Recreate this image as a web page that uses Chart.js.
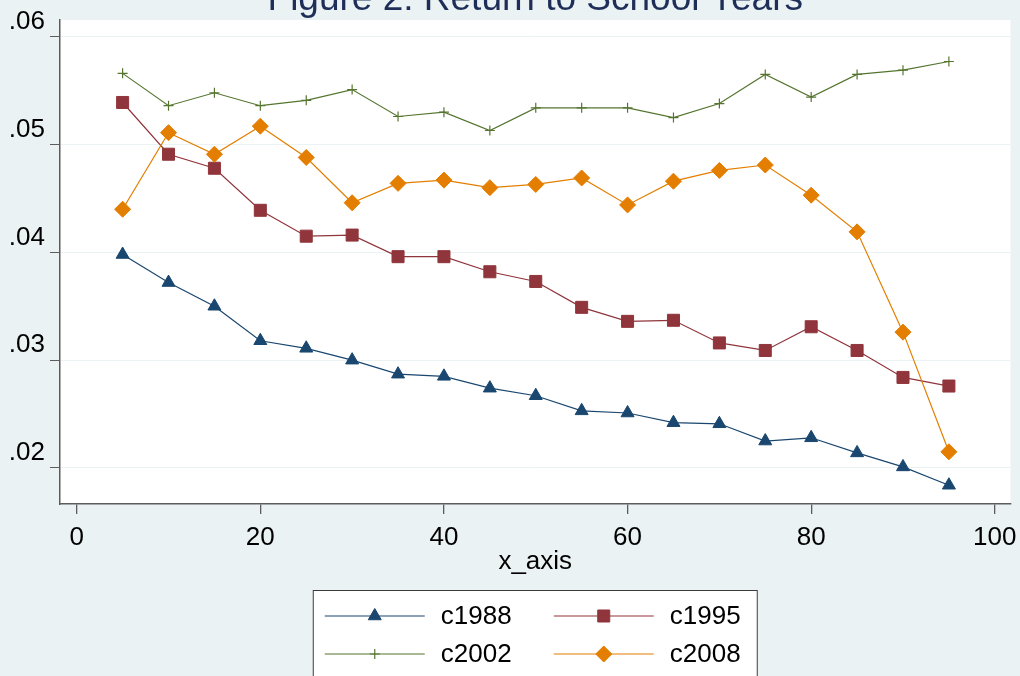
<!DOCTYPE html>
<html>
<head>
<meta charset="utf-8">
<title>Figure 2: Return to School Years</title>
<script src="https://cdn.jsdelivr.net/npm/chart.js@4.4.0/dist/chart.umd.min.js"></script>
<style>
    html, body { margin: 0; padding: 0; background: #EAF2F3; }
    canvas { display: block; }
</style>
</head>
<body>
<canvas id="graficoRetorno" width="1020" height="676"></canvas>
<script>
// dados
const xValores = [5, 10, 15, 20, 25, 30, 35, 40, 45, 50, 55, 60, 65, 70, 75, 80, 85, 90, 95];
const c1988 = [0.0398, 0.0372, 0.0350, 0.0318, 0.0311, 0.0300, 0.0287, 0.0285, 0.0274, 0.0267, 0.0253, 0.0251, 0.0242, 0.0241, 0.0225, 0.0228, 0.0214, 0.0201, 0.0184];
const c1995 = [0.0539, 0.0491, 0.0478, 0.0439, 0.0415, 0.0416, 0.0396, 0.0396, 0.0382, 0.0373, 0.0349, 0.0336, 0.0337, 0.0316, 0.0309, 0.0331, 0.0309, 0.0284, 0.0276];
const c2002 = [0.0566, 0.0536, 0.0548, 0.0536, 0.0541, 0.0551, 0.0526, 0.0530, 0.0513, 0.0534, 0.0534, 0.0534, 0.0525, 0.0538, 0.0565, 0.0544, 0.0565, 0.0569, 0.0577];
const c2008 = [0.0440, 0.0511, 0.0491, 0.0517, 0.0488, 0.0446, 0.0464, 0.0467, 0.0460, 0.0463, 0.0469, 0.0444, 0.0466, 0.0476, 0.0481, 0.0453, 0.0419, 0.0326, 0.0215];
const seriesNomes = ['c1988', 'c1995', 'c2002', 'c2008'];
const xTicks = [0, 20, 40, 60, 80, 100];
const yTicks = [0.02, 0.03, 0.04, 0.05, 0.06];
const yTickLabels = ['.02', '.03', '.04', '.05', '.06'];
const titulo = 'Figure 2: Return to School Years';
const xTitulo = 'x_axis';

const FONTE = '"Liberation Sans", Arial, Helvetica, sans-serif';
const FUNDO = '#EAF2F3';
const EIXO = '#5c5c5c';

const paraPontos = (ys) => ys.map((y, i) => ({ x: xValores[i], y: y }));

// --- Fundo, titulo e legenda ---
const fundoPlugin = {
    id: 'fundo',
    beforeDraw(chart) {
        const { ctx, chartArea } = chart;
        ctx.save();
        ctx.fillStyle = FUNDO;
        ctx.fillRect(0, 0, chart.width, chart.height);
        ctx.fillStyle = '#ffffff';
        ctx.fillRect(chartArea.left, chartArea.top, chartArea.right - chartArea.left, chartArea.bottom - chartArea.top);
        ctx.restore();
    }
};

function desenharMarcador(ctx, ds, x, y) {
    const opts = {
        pointStyle: ds.pointStyle,
        radius: ds.pointRadius,
        rotation: 0,
        borderWidth: ds.pointBorderWidth
    };
    ctx.fillStyle = ds.pointBackgroundColor;
    ctx.strokeStyle = ds.pointBorderColor;
    ctx.lineWidth = ds.pointBorderWidth;
    Chart.helpers.drawPoint(ctx, opts, x, y);
}

const tituloLegendaPlugin = {
    id: 'tituloLegenda',
    afterDraw(chart) {
        const { ctx, chartArea } = chart;
        const centro = (chartArea.left + chartArea.right) / 2;
        ctx.save();

        // titulo (cortado no topo como no original)
        ctx.fillStyle = '#1E2E58';
        ctx.font = '37px ' + FONTE;
        ctx.textAlign = 'center';
        ctx.textBaseline = 'alphabetic';
        ctx.fillText(titulo, centro, 10);

        // caixa da legenda
        const larg = 445;
        const esq = centro - larg / 2;
        const topo = 590;
        ctx.fillStyle = '#ffffff';
        ctx.fillRect(esq, topo, larg, 100);
        ctx.strokeStyle = '#3a3a3a';
        ctx.lineWidth = 1;
        ctx.strokeRect(esq + 0.5, topo + 0.5, larg - 1, 100);

        ctx.font = '26px ' + FONTE;
        ctx.textAlign = 'left';
        ctx.textBaseline = 'middle';
        chart.data.datasets.forEach((ds, i) => {
            const col = i % 2;
            const lin = Math.floor(i / 2);
            const x0 = esq + 12 + col * 229;
            const y0 = topo + 26 + lin * 38;
            ctx.strokeStyle = ds.borderColor;
            ctx.lineWidth = ds.borderWidth;
            ctx.beginPath();
            ctx.moveTo(x0, y0);
            ctx.lineTo(x0 + 100, y0);
            ctx.stroke();
            desenharMarcador(ctx, ds, x0 + 50, y0);
            ctx.fillStyle = '#000000';
            ctx.fillText(ds.label, x0 + 116, y0 + 1);
        });
        ctx.restore();
    }
};

const cores = ['#1A476F', '#90353B', '#55752F', '#E37E00'];
const estilos = ['triangle', 'rect', 'cross', 'rectRot'];
const raios = [7.5, 8.5, 5, 8];
const valores = [c1988, c1995, c2002, c2008];

const datasets = seriesNomes.map((nome, i) => ({
    label: nome,
    data: paraPontos(valores[i]),
    borderColor: cores[i],
    borderWidth: 1.2,
    pointStyle: estilos[i],
    pointRadius: raios[i],
    pointHoverRadius: raios[i],
    pointBackgroundColor: cores[i],
    pointBorderColor: cores[i],
    pointBorderWidth: estilos[i] === 'cross' ? 1.2 : 1,
    tension: 0,
    fill: false,
    order: seriesNomes.length - i
}));

const ctx = document.getElementById('graficoRetorno').getContext('2d');
new Chart(ctx, {
    type: 'line',
    data: { datasets: datasets },
    options: {
        responsive: false,
        animation: false,
        devicePixelRatio: 1,
        layout: { padding: { top: 20, right: 9, bottom: 100, left: 0 } },
        plugins: {
            legend: { display: false },
            title: { display: false },
            tooltip: { enabled: false }
        },
        scales: {
            x: {
                type: 'linear',
                min: -1.82,
                max: 101.71,
                afterBuildTicks: (scale) => { scale.ticks = xTicks.map(v => ({ value: v })); },
                afterFit: (scale) => {
                    scale.height = 72;
                    scale.paddingLeft = 0;
                    scale.paddingRight = 0;
                },
                grid: { drawOnChartArea: false, drawTicks: true, tickLength: 10, tickColor: EIXO, lineWidth: 1.3 },
                border: { display: true, color: EIXO, width: 1.5 },
                ticks: { color: '#000', padding: 8, font: { family: FONTE, size: 26 }, maxRotation: 0, autoSkip: false },
                title: { display: true, text: xTitulo, color: '#000', padding: { top: 0, bottom: 1.5 }, font: { family: FONTE, size: 26, lineHeight: 1 } }
            },
            y: {
                type: 'linear',
                min: 0.01666,
                max: 0.06155,
                afterBuildTicks: (scale) => { scale.ticks = yTicks.map(v => ({ value: v })); },
                afterFit: (scale) => {
                    scale.width = 60;
                    scale.paddingTop = 0;
                    scale.paddingBottom = 0;
                },
                grid: { color: FUNDO, lineWidth: 1, drawTicks: true, tickLength: 10, tickColor: EIXO },
                border: { display: true, color: EIXO, width: 1.5 },
                ticks: {
                    color: '#000',
                    padding: 5,
                    labelOffset: -15,
                    font: { family: FONTE, size: 26 },
                    autoSkip: false,
                    callback: (v) => {
                        const k = yTicks.findIndex(t => Math.abs(t - v) < 1e-9);
                        return k >= 0 ? yTickLabels[k] : '';
                    }
                }
            }
        }
    },
    plugins: [fundoPlugin, tituloLegendaPlugin]
});
</script>
</body>
</html>
